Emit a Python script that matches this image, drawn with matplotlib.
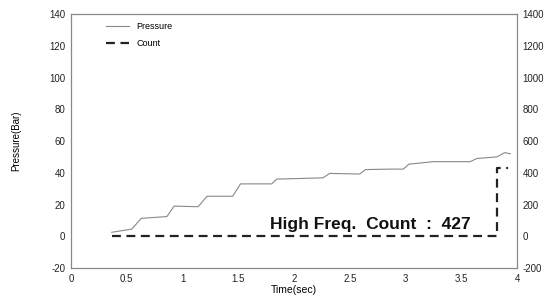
import matplotlib
matplotlib.use("Agg")
import matplotlib.pyplot as plt

# Pressure trace (time in s, pressure in bar)
time_p = [0.365, 0.545, 0.63, 0.86, 0.925, 1.14, 1.22, 1.45, 1.52, 1.80, 1.845,
          2.26, 2.32, 2.59, 2.64, 2.86, 2.98, 3.03, 3.25, 3.58, 3.64, 3.82, 3.89, 3.94]
pressure = [2.5, 4.5, 11.3, 12.4, 19.0, 18.6, 25.2, 25.2, 33.0, 33.0, 36.0,
            36.8, 39.6, 39.2, 42.0, 42.3, 42.3, 45.4, 47.0, 47.0, 49.0, 50.0, 52.7, 52.0]

# High-frequency count (right axis)
time_c = [0.365, 3.82, 3.82, 3.92]
count = [0, 0, 427, 427]

left_ticks = [-20, 0, 20, 40, 60, 80, 100, 120, 140]
right_ticks = [-200, 0, 200, 400, 600, 800, 1000, 1200, 1400]
x_ticks = [0, 0.5, 1, 1.5, 2, 2.5, 3, 3.5, 4]
x_labels = ["0", "0.5", "1", "1.5", "2", "2.5", "3", "3.5", "4"]

plt.rcParams['font.family'] = ['Liberation Sans', 'DejaVu Sans']
plt.rcParams['axes.unicode_minus'] = False

fig = plt.figure(figsize=(5.57, 2.99), dpi=100)
ax = fig.add_axes([0.1275, 0.1037, 0.8007, 0.8493])
ax2 = ax.twinx()

lp, = ax.plot(time_p, pressure, color='#888888', lw=0.8, label='Pressure')
lc, = ax2.plot(time_c, count, color='#222222', lw=1.6, ls=(0, (4, 2.5)), label='Count')

ax.set_xlim(0, 4)
ax.set_ylim(-20, 140)
ax2.set_ylim(-200, 1400)
ax.set_xticks(x_ticks)
ax.set_xticklabels(x_labels)
ax.set_yticks(left_ticks)
ax2.set_yticks(right_ticks)

for a in (ax, ax2):
    a.tick_params(labelsize=7, length=0, pad=4, colors='#222222')
    for s in a.spines.values():
        s.set_color('#888888')
        s.set_linewidth(0.8)

ax.set_xlabel('Time(sec)', fontsize=7.5, labelpad=1)
ax.set_ylabel('Pressure(Bar)', fontsize=7, labelpad=20)

ax.legend(handles=[lp, lc], loc='upper left', bbox_to_anchor=(0.06, 1.0),
          frameon=False, fontsize=6.5, handlelength=2.6, labelspacing=0.9)

ax.text(2.68, 7.4, 'High Freq.  Count  :  427', fontsize=12.5, ha='center',
        va='center', color='#111111', fontweight='bold')

fig.savefig('out.png', dpi=100)
